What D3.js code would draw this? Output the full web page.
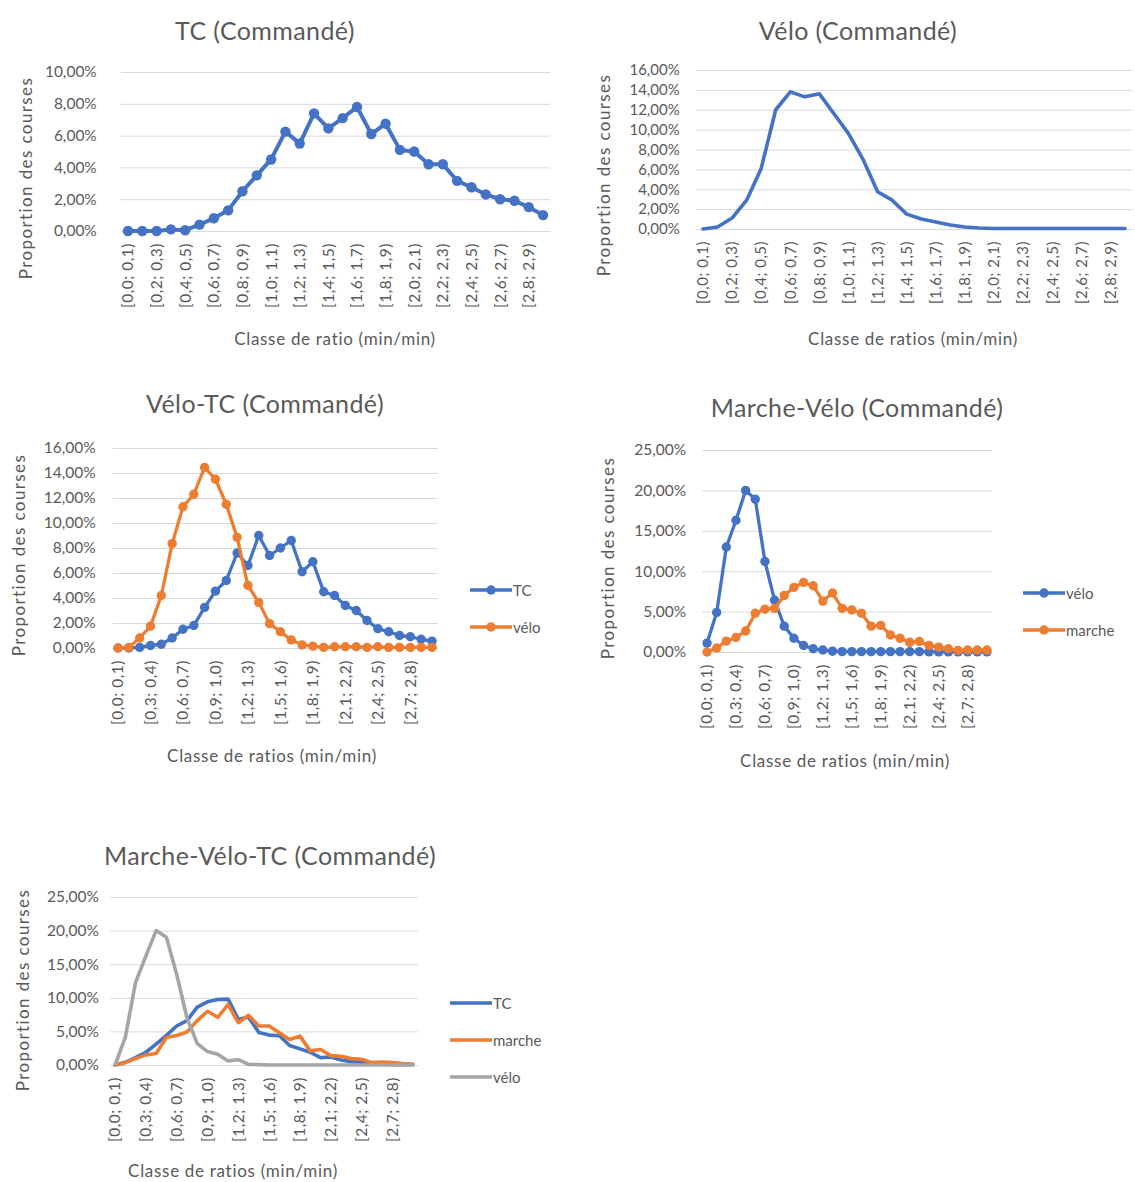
<!DOCTYPE html>
<html>
<head>
<meta charset="utf-8">
<script src="https://cdn.jsdelivr.net/npm/d3@7"></script>
<style>
  html, body { margin: 0; padding: 0; background: #fff; }
  svg text { font-family: Lato, "Open Sans", sans-serif; fill: #595959; }
</style>
</head>
<body>
<svg id="chart" width="1135" height="1182"></svg>
<script>
// ---------- DATA ----------
const categories = ["[0,0; 0,1)", "[0,1; 0,2)", "[0,2; 0,3)", "[0,3; 0,4)", "[0,4; 0,5)", "[0,5; 0,6)",
  "[0,6; 0,7)", "[0,7; 0,8)", "[0,8; 0,9)", "[0,9; 1,0)", "[1,0; 1,1)", "[1,1; 1,2)", "[1,2; 1,3)",
  "[1,3; 1,4)", "[1,4; 1,5)", "[1,5; 1,6)", "[1,6; 1,7)", "[1,7; 1,8)", "[1,8; 1,9)", "[1,9; 2,0)",
  "[2,0; 2,1)", "[2,1; 2,2)", "[2,2; 2,3)", "[2,3; 2,4)", "[2,4; 2,5)", "[2,5; 2,6)", "[2,6; 2,7)",
  "[2,7; 2,8)", "[2,8; 2,9)", "[2,9; 3,0)"];

const ticksEvery2 = ["[0,0; 0,1)", "[0,2; 0,3)", "[0,4; 0,5)", "[0,6; 0,7)", "[0,8; 0,9)", "[1,0; 1,1)",
  "[1,2; 1,3)", "[1,4; 1,5)", "[1,6; 1,7)", "[1,8; 1,9)", "[2,0; 2,1)", "[2,2; 2,3)", "[2,4; 2,5)",
  "[2,6; 2,7)", "[2,8; 2,9)"];
const ticksEvery3 = ["[0,0; 0,1)", "[0,3; 0,4)", "[0,6; 0,7)", "[0,9; 1,0)", "[1,2; 1,3)", "[1,5; 1,6)",
  "[1,8; 1,9)", "[2,1; 2,2)", "[2,4; 2,5)", "[2,7; 2,8)"];

const yTicks10 = [0, 2, 4, 6, 8, 10];
const yTicks16 = [0, 2, 4, 6, 8, 10, 12, 14, 16];
const yTicks25 = [0, 5, 10, 15, 20, 25];

// values in percent
const tcCommande = [0, 0, 0, 0.1, 0.05, 0.4, 0.8, 1.3, 2.5, 3.5, 4.5, 6.25, 5.5, 7.4, 6.45, 7.1, 7.8, 6.1,
  6.75, 5.1, 5.0, 4.2, 4.2, 3.15, 2.75, 2.3, 2.0, 1.9, 1.5, 1.0];

const veloCommande = [0, 0.2, 1.1, 2.9, 6.1, 12.0, 13.8, 13.3, 13.6, 11.6, 9.6, 7.0, 3.75, 2.9, 1.5, 1.0,
  0.7, 0.4, 0.2, 0.1, 0.05, 0.05, 0.05, 0.05, 0.05, 0.05, 0.05, 0.05, 0.05, 0.05];

const veloTc_TC = [0, 0, 0.05, 0.2, 0.3, 0.8, 1.5, 1.8, 3.25, 4.55, 5.4, 7.6, 6.6, 9.0, 7.4, 8.0, 8.6, 6.1,
  6.9, 4.5, 4.2, 3.4, 3.0, 2.2, 1.55, 1.3, 1.0, 0.9, 0.7, 0.55];
const veloTc_velo = [0, 0.05, 0.8, 1.75, 4.2, 8.35, 11.3, 12.3, 14.45, 13.5, 11.5, 8.85, 5.0, 3.65, 1.95,
  1.3, 0.65, 0.25, 0.15, 0.05, 0.1, 0.1, 0.1, 0.05, 0.1, 0.05, 0.05, 0.05, 0.05, 0.05];

const marcheVelo_velo = [1.1, 4.9, 13.0, 16.3, 20.0, 18.9, 11.2, 6.4, 3.2, 1.7, 0.8, 0.4, 0.25, 0.1, 0.05,
  0.05, 0.05, 0.05, 0.05, 0.05, 0.05, 0.05, 0.05, 0.02, 0.02, 0.02, 0.02, 0.02, 0.02, 0.02];
const marcheVelo_marche = [0, 0.5, 1.35, 1.8, 2.6, 4.8, 5.3, 5.4, 7.0, 8.0, 8.6, 8.2, 6.3, 7.3, 5.4, 5.2,
  4.8, 3.2, 3.3, 2.1, 1.7, 1.2, 1.3, 0.8, 0.6, 0.4, 0.2, 0.25, 0.25, 0.25];

const mvt_TC = [0, 0.4, 1.1, 1.9, 3.1, 4.4, 5.8, 6.6, 8.6, 9.4, 9.75, 9.8, 6.8, 7.1, 4.85, 4.45, 4.35, 2.9,
  2.4, 1.9, 1.1, 1.2, 0.75, 0.5, 0.4, 0.25, 0.15, 0.1, 0.1, 0.05];
const mvt_marche = [0, 0.35, 0.95, 1.5, 1.7, 4.1, 4.4, 4.9, 6.6, 8.0, 7.1, 9.0, 6.3, 7.4, 5.8, 5.8, 4.8,
  3.8, 4.3, 2.1, 2.3, 1.4, 1.3, 0.95, 0.85, 0.35, 0.45, 0.35, 0.2, 0.1];
const mvt_velo = [0, 4.1, 12.3, 16.2, 20.0, 19.0, 13.5, 7.0, 3.2, 2.0, 1.6, 0.6, 0.8, 0.1, 0.05, 0, 0, 0,
  0, 0, 0, 0, 0, 0, 0, 0, 0, 0, 0, 0];

// ---------- DRAWING ----------
const BLUE = "#4472C4", ORANGE = "#ED7D31", GREY = "#A5A5A5";
const svg = d3.select("#chart");
const locale = d3.formatLocale({ decimal: ",", thousands: " ", grouping: [3], currency: ["", "€"] });
const fmt2 = locale.format(".2f");
const pct = v => fmt2(v) + "%";

function drawChart(cfg) {
  const g = svg.append("g");
  const x = d3.scaleBand().domain(categories).range([cfg.x0, cfg.x1]).padding(0);
  const y = d3.scaleLinear().domain([0, cfg.yMax]).range([cfg.yBottom, cfg.yTop]);
  const cx = c => x(c) + x.bandwidth() / 2;

  // title
  g.append("text").attr("x", cfg.titleX).attr("y", cfg.titleY)
    .attr("text-anchor", "middle").attr("dominant-baseline", "central")
    .style("font-size", cfg.titleSize + "px").style("letter-spacing", "0.4px").text(cfg.title);

  // y axis with gridlines
  const ya = g.append("g").attr("transform", `translate(${cfg.x0},0)`)
    .call(d3.axisLeft(y).tickValues(cfg.yTicks).tickFormat(pct)
      .tickSize(-(cfg.x1 - cfg.x0)).tickPadding(cfg.yPad));
  ya.select(".domain").remove();
  ya.selectAll(".tick line").attr("stroke", "#d9d9d9").attr("stroke-width", 1);
  ya.selectAll(".tick text").style("font-size", cfg.tickSize + "px")
    .style("font-family", "Lato, sans-serif").attr("fill", "#595959");

  // x axis
  const xa = g.append("g").attr("transform", `translate(0,${cfg.yBottom})`)
    .call(d3.axisBottom(x).tickValues(cfg.xTicks).tickSize(0));
  xa.select(".domain").attr("stroke", "#d9d9d9");
  xa.selectAll(".tick text")
    .attr("transform", "rotate(-90)")
    .attr("x", -cfg.xPad).attr("y", 0).attr("dy", "0.35em")
    .attr("text-anchor", "end")
    .style("font-size", cfg.tickSize + "px").style("letter-spacing", "0.5px")
    .style("font-family", "Lato, sans-serif").attr("fill", "#595959");

  // axis titles
  g.append("text").attr("x", cfg.xTitleX).attr("y", cfg.xTitleY)
    .attr("text-anchor", "middle").attr("dominant-baseline", "central")
    .style("font-size", cfg.axisTitleSize + "px").style("letter-spacing", "0.7px").text(cfg.xTitle);
  g.append("text").attr("transform", `translate(${cfg.yTitleX},${cfg.yTitleY}) rotate(-90)`)
    .attr("text-anchor", "middle").attr("dominant-baseline", "central")
    .style("font-size", cfg.axisTitleSize + "px").style("letter-spacing", "1.4px")
    .text("Proportion des courses");

  // series
  const line = d3.line().x((d, i) => cx(categories[i])).y(d => y(d));
  cfg.series.forEach(s => {
    g.append("path").datum(s.values).attr("d", line)
      .attr("fill", "none").attr("stroke", s.color).attr("stroke-width", cfg.lineWidth)
      .attr("stroke-linejoin", "round").attr("stroke-linecap", "round");
    if (cfg.markers) {
      g.append("g").selectAll("circle").data(s.values).join("circle")
        .attr("cx", (d, i) => cx(categories[i])).attr("cy", d => y(d))
        .attr("r", cfg.markerR).attr("fill", s.color);
    }
  });

  // legend
  if (cfg.legend) {
    cfg.series.forEach((s, k) => {
      const ly = cfg.legendY + k * cfg.legendGap;
      g.append("line").attr("x1", cfg.legendX).attr("x2", cfg.legendX + 42)
        .attr("y1", ly).attr("y2", ly).attr("stroke", s.color).attr("stroke-width", cfg.lineWidth);
      if (cfg.markers) {
        g.append("circle").attr("cx", cfg.legendX + 21).attr("cy", ly).attr("r", cfg.markerR).attr("fill", s.color);
      }
      g.append("text").attr("x", cfg.legendX + 43).attr("y", ly)
        .attr("dominant-baseline", "central").style("font-size", "15px")
        .text(s.name);
    });
  }
}

drawChart({
  title: "TC (Commandé)", titleX: 265, titleY: 30, titleSize: 25,
  x0: 120.8, x1: 550.2, yTop: 72, yBottom: 231, yMax: 10, yTicks: yTicks10, yPad: 24,
  xTicks: ticksEvery2, xPad: 12, tickSize: 15.5,
  xTitle: "Classe de ratio (min/min)", xTitleX: 335, xTitleY: 338,
  yTitleX: 25, yTitleY: 178, axisTitleSize: 17,
  series: [{ name: "TC", values: tcCommande, color: BLUE }],
  markers: true, markerR: 5.2, lineWidth: 4, legend: false
});

drawChart({
  title: "Vélo (Commandé)", titleX: 858, titleY: 30, titleSize: 25,
  x0: 695.7, x1: 1132.3, yTop: 70, yBottom: 229, yMax: 16, yTicks: yTicks16, yPad: 16,
  xTicks: ticksEvery2, xPad: 12, tickSize: 15,
  xTitle: "Classe de ratios (min/min)", xTitleX: 913, xTitleY: 338,
  yTitleX: 603, yTitleY: 175, axisTitleSize: 17,
  series: [{ name: "vélo", values: veloCommande, color: BLUE }],
  markers: false, lineWidth: 3.6, legend: false
});

drawChart({
  title: "Vélo-TC (Commandé)", titleX: 265, titleY: 403, titleSize: 25,
  x0: 112.6, x1: 437.4, yTop: 448, yBottom: 648, yMax: 16, yTicks: yTicks16, yPad: 17,
  xTicks: ticksEvery3, xPad: 12, tickSize: 15.5,
  xTitle: "Classe de ratios (min/min)", xTitleX: 272, xTitleY: 755,
  yTitleX: 18, yTitleY: 555, axisTitleSize: 17,
  series: [{ name: "TC", values: veloTc_TC, color: BLUE }, { name: "vélo", values: veloTc_velo, color: ORANGE }],
  markers: true, markerR: 4.7, lineWidth: 3.3, legend: true, legendX: 470, legendY: 590, legendGap: 37
});

drawChart({
  title: "Marche-Vélo (Commandé)", titleX: 857, titleY: 407, titleSize: 25,
  x0: 702.2, x1: 991.8, yTop: 450, yBottom: 652, yMax: 25, yTicks: yTicks25, yPad: 16,
  xTicks: ticksEvery3, xPad: 12, tickSize: 15.5,
  xTitle: "Classe de ratios (min/min)", xTitleX: 845, xTitleY: 760,
  yTitleX: 607, yTitleY: 558, axisTitleSize: 17,
  series: [{ name: "vélo", values: marcheVelo_velo, color: BLUE }, { name: "marche", values: marcheVelo_marche, color: ORANGE }],
  markers: true, markerR: 4.7, lineWidth: 3.3, legend: true, legendX: 1023, legendY: 593, legendGap: 37
});

drawChart({
  title: "Marche-Vélo-TC (Commandé)", titleX: 270, titleY: 855, titleSize: 25,
  x0: 109.9, x1: 418.1, yTop: 897, yBottom: 1065, yMax: 25, yTicks: yTicks25, yPad: 11,
  xTicks: ticksEvery3, xPad: 12, tickSize: 15.5,
  xTitle: "Classe de ratios (min/min)", xTitleX: 233, xTitleY: 1170,
  yTitleX: 22, yTitleY: 990, axisTitleSize: 17,
  series: [{ name: "TC", values: mvt_TC, color: BLUE }, { name: "marche", values: mvt_marche, color: ORANGE },
           { name: "vélo", values: mvt_velo, color: GREY }],
  markers: false, lineWidth: 3.6, legend: true, legendX: 450, legendY: 1003, legendGap: 37
});
</script>
</body>
</html>
